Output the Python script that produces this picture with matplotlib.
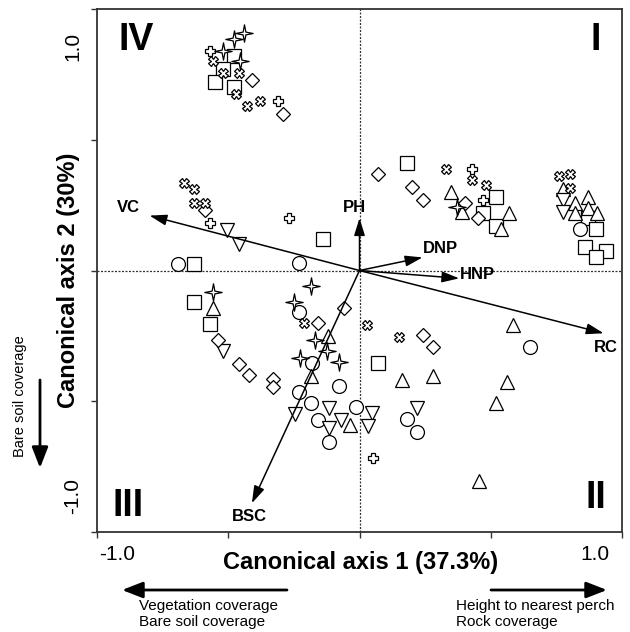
import matplotlib
matplotlib.use('Agg')
import matplotlib.pyplot as plt
from matplotlib.path import Path

plt.rcParams['font.family'] = ['Liberation Sans', 'DejaVu Sans']

# site scores (axis 1, axis 2)
sq_x = [-0.48, -0.52, -0.55, -0.48, -0.14, -0.63, 0.18, 0.52, 0.47, 0.52, 0.87, 0.90, 0.86, 0.94, 0.90, -0.63, -0.57, 0.07]
sq_y = [0.82, 0.77, 0.72, 0.70, 0.12, 0.025, 0.41, 0.28, 0.22, 0.17, 0.20, 0.16, 0.09, 0.075, 0.05, -0.12, -0.205, -0.354]

ci_x = [-0.69, -0.23, 0.84, -0.23, -0.18, -0.08, -0.23, -0.185, -0.013, -0.16, -0.116, 0.18, 0.22, 0.65]
ci_y = [0.025, 0.03, 0.16, -0.16, -0.354, -0.44, -0.465, -0.507, -0.522, -0.572, -0.656, -0.568, -0.618, -0.293]

tu_x = [0.35, 0.39, 0.57, 0.54, 0.775, 0.87, 0.82, 0.87, 0.82, 0.905, -0.56, -0.12, -0.185, -0.036, 0.16, 0.28, 0.585, 0.56, 0.52, 0.455]
tu_y = [0.30, 0.224, 0.22, 0.16, 0.31, 0.28, 0.26, 0.24, 0.22, 0.22, -0.143, -0.25, -0.403, -0.591, -0.419, -0.403, -0.208, -0.426, -0.507, -0.805]

td_x = [-0.505, -0.46, 0.775, 0.775, -0.52, -0.116, -0.246, -0.07, -0.116, 0.048, 0.032, 0.22]
td_y = [0.155, 0.10, 0.27, 0.224, -0.308, -0.526, -0.549, -0.572, -0.602, -0.545, -0.595, -0.526]

di_x = [-0.41, -0.29, -0.59, 0.07, 0.20, 0.24, 0.40, 0.45, -0.54, -0.46, -0.42, -0.33, -0.33, -0.16, -0.06, 0.24, 0.28]
di_y = [0.73, 0.60, 0.23, 0.37, 0.32, 0.27, 0.26, 0.20, -0.266, -0.358, -0.40, -0.415, -0.446, -0.20, -0.143, -0.247, -0.293]

pl_x = [-0.57, -0.31, -0.57, -0.27, 0.43, 0.47, 0.05]
pl_y = [0.84, 0.65, 0.18, 0.20, 0.39, 0.27, -0.717]

xc_x = [-0.56, -0.52, -0.46, -0.47, -0.43, -0.38, -0.67, -0.63, -0.63, -0.59, 0.33, 0.43, 0.48, 0.76, 0.80, 0.80, -0.21, 0.03, 0.15]
xc_y = [0.80, 0.755, 0.755, 0.675, 0.63, 0.65, 0.335, 0.31, 0.26, 0.26, 0.39, 0.346, 0.327, 0.36, 0.37, 0.315, -0.20, -0.208, -0.254]

st_x = [-0.44, -0.48, -0.52, -0.455, 0.37, -0.56, -0.185, -0.25, -0.17, -0.124, -0.227, -0.078]
st_y = [0.91, 0.885, 0.84, 0.80, 0.243, -0.082, -0.059, -0.12, -0.266, -0.308, -0.335, -0.35]

# environmental vectors
env_names = ['VC', 'PH', 'DNP', 'HNP', 'RC', 'BSC']
env_x = [-0.80, 0.0, 0.24, 0.38, 0.93, -0.41]
env_y = [0.21, 0.20, 0.05, -0.03, -0.24, -0.89]
lab_x = [-0.88, -0.02, 0.31, 0.45, 0.94, -0.42]
lab_y = [0.24, 0.24, 0.086, -0.017, -0.293, -0.94]

quad_names = ['I', 'II', 'III', 'IV']
quad_x = [0.90, 0.90, -0.88, -0.85]
quad_y = [0.88, -0.87, -0.90, 0.88]

# 4-pointed star marker
s = 0.16
star = Path([(0, 1), (s, s), (1, 0), (s, -s), (0, -1), (-s, -s), (-1, 0), (-s, s), (0, 1)],
            [Path.MOVETO] + [Path.LINETO] * 7 + [Path.CLOSEPOLY])

fig = plt.figure(figsize=(6.3, 6.32), dpi=100)
ax = fig.add_axes([97 / 630, 1 - 532 / 632, 525 / 630, 523 / 632])
ax.set_xlim(-1, 1)
ax.set_ylim(-1, 1)

ax.axhline(0, color='#333333', lw=0.9, ls=(0, (1.6, 1.2)), zorder=1)
ax.axvline(0, color='#333333', lw=0.9, ls=(0, (1.6, 1.2)), zorder=1)

kw = dict(ls='none', mfc='white', mec='black', mew=0.9, zorder=3)
ax.plot(sq_x, sq_y, marker='s', ms=9.5, **kw)
ax.plot(ci_x, ci_y, marker='o', ms=10, **kw)
ax.plot(tu_x, tu_y, marker='^', ms=10.5, **kw)
ax.plot(td_x, td_y, marker='v', ms=10.5, **kw)
ax.plot(di_x, di_y, marker='D', ms=7.5, **kw)
ax.plot(pl_x, pl_y, marker='P', ms=7.5, **kw)
ax.plot(xc_x, xc_y, marker='X', ms=6.5, **kw)
ax.plot(st_x, st_y, marker=star, ms=12.5, **kw)

for name, x, y, lx, ly in zip(env_names, env_x, env_y, lab_x, lab_y):
    ax.annotate('', xy=(x, y), xytext=(0, 0),
                arrowprops=dict(arrowstyle='-|>,head_length=0.7,head_width=0.22',
                                color='black', lw=1.1, shrinkA=0, shrinkB=0,
                                mutation_scale=15), zorder=4)
    ax.text(lx, ly, name, fontsize=12, fontweight='bold', ha='center', va='center', zorder=5)

for name, x, y in zip(quad_names, quad_x, quad_y):
    ax.text(x, y, name, fontsize=27, fontweight='bold', ha='center', va='center')

ax.set_xticks([-1, -0.5, 0, 0.5, 1])
ax.set_yticks([-1, -0.5, 0, 0.5, 1])
ax.set_xticklabels([])
ax.set_yticklabels([])
ax.tick_params(direction='out', length=4, width=1, color='#333333')
for sp in ax.spines.values():
    sp.set_color('#333333')
    sp.set_linewidth(1.3)

# axis texts, placed in figure pixels
def fx(px):
    return px / 630

def fy(py):
    return 1 - py / 632

fig.text(fx(117), fy(555), '-1.0', fontsize=15, ha='center', va='center')
fig.text(fx(595), fy(555), '1.0', fontsize=15, ha='center', va='center')
fig.text(fx(73), fy(46), '1.0', fontsize=15, ha='center', va='center', rotation=90)
fig.text(fx(73), fy(496), '-1.0', fontsize=15, ha='center', va='center', rotation=90)
fig.text(fx(361), fy(563), 'Canonical axis 1 (37.3%)', fontsize=17, fontweight='bold',
         ha='center', va='center')
fig.text(fx(68), fy(280), 'Canonical axis 2 (30%)', fontsize=17, fontweight='bold',
         ha='center', va='center', rotation=90)

big = dict(arrowstyle='-|>,head_length=0.9,head_width=0.35', color='black', lw=2,
           shrinkA=0, shrinkB=0, mutation_scale=14)
fig.add_artist(plt.Annotation('', xy=(fx(122), fy(590)), xytext=(fx(287), fy(590)),
                              xycoords='figure fraction', arrowprops=big))
fig.add_artist(plt.Annotation('', xy=(fx(607), fy(590)), xytext=(fx(491), fy(590)),
                              xycoords='figure fraction', arrowprops=big))
fig.add_artist(plt.Annotation('', xy=(fx(40), fy(468)), xytext=(fx(40), fy(380)),
                              xycoords='figure fraction', arrowprops=big))

fig.text(fx(139), fy(606), 'Vegetation coverage', fontsize=11, ha='left', va='center')
fig.text(fx(139), fy(622), 'Bare soil coverage', fontsize=11, ha='left', va='center')
fig.text(fx(456), fy(606), 'Height to nearest perch', fontsize=11, ha='left', va='center')
fig.text(fx(456), fy(622), 'Rock coverage', fontsize=11, ha='left', va='center')
fig.text(fx(20), fy(396), 'Bare soil coverage', fontsize=10.5, ha='center', va='center',
         rotation=90)

fig.savefig('out.png', dpi=100)
